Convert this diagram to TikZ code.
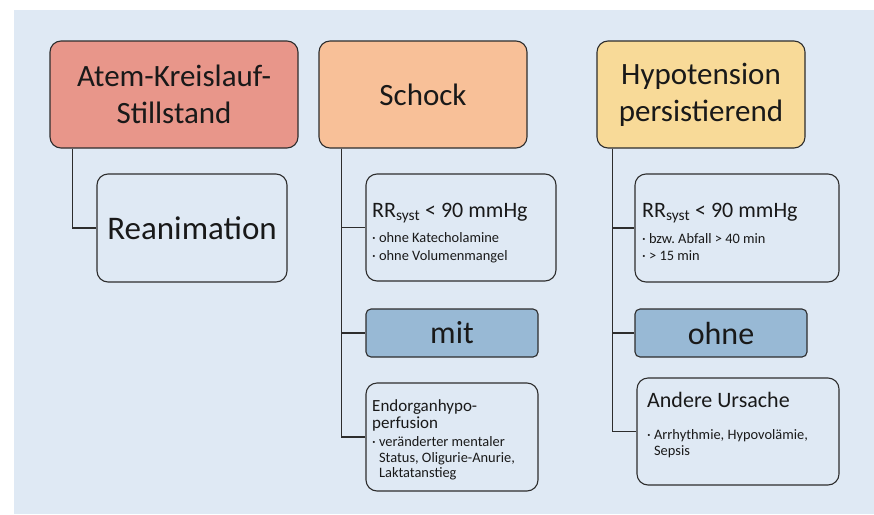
\documentclass[tikz,border=0pt]{standalone}
\usepackage{fontspec}
\setmainfont{Carlito}

\definecolor{colorBG}{RGB}{223,233,244}
\definecolor{colorLine}{RGB}{45,45,45}
\definecolor{colorText}{RGB}{25,25,25}
\definecolor{colorArrest}{RGB}{232,150,138}
\definecolor{colorShock}{RGB}{248,192,152}
\definecolor{colorHypo}{RGB}{248,218,152}
\definecolor{colorTag}{RGB}{152,185,213}
\tikzset{
   box/.style={draw=colorLine,line width=1.1pt,rounded corners=11pt,inner sep=0pt,text=colorText},
   topbox/.style={box,minimum width=#1,minimum height=107pt,align=center,font=\fontsize{31}{37}\selectfont},
   infobox/.style={box,fill=colorBG},
   tagbox/.style={box,rounded corners=5pt,fill=colorTag,minimum width=172pt,minimum height=48pt,font=\fontsize{32}{37}\selectfont},
   head/.style={anchor=base west,inner sep=0pt,text=colorText,font=\fontsize{22}{24}\selectfont},
   note/.style={anchor=base west,inner sep=0pt,align=left,text=colorText,font=\fontsize{14.4}{#1}\selectfont},
   link/.style={draw=colorLine,line width=1.1pt},
 }
\newcommand{\dlink}[3]{\draw[link] (#1.south west) ++(#3,0) |- (#2.west)}
\newcommand{\bul}{\textperiodcentered\ }

\begin{document}
\begin{tikzpicture}[x=1pt,y=-1pt]
      \useasboundingbox (0,0) rectangle (874,514);
      \fill[colorBG] (14,10) rectangle (874,514);

      % top row
      \node[topbox=248pt,fill=colorArrest] (Arrest) at (174,94.5) {Atem-Kreislauf-\\Stillstand};
      \node[topbox=208pt,fill=colorShock] (Shock) at (423,94.5) {Schock};
      \node[topbox=208pt,fill=colorHypo] (Hypo) at (701,94.5) {Hypotension\\persistierend};

      % left column
      \node[infobox,minimum width=190pt,minimum height=108pt,font=\fontsize{33}{37}\selectfont] (Reanim) at (192,228) {Reanimation};
      \dlink{Arrest}{Reanim}{23};

      % middle column
      \node[infobox,minimum width=190pt,minimum height=107pt] (RRa) at (461,227.5) {};
      \node[head] (RRaHead) at (372,217) {RR\textsubscript{syst} < 90 mmHg};
      \node[note=17.5] (RRaNote) at (372,260) {\bul ohne Katecholamine\\\bul ohne Volumenmangel};
      \dlink{Shock}{RRa}{23};

      \node[tagbox] (Mit) at (452,333) {mit};
      \dlink{Shock}{Mit}{23};

      \node[infobox,minimum width=172pt,minimum height=108pt] (Organ) at (452,437) {};
      \node[note=16.5,font=\fontsize{17}{16.5}\selectfont] (OrganHead) at (372,428) {Endorganhypo-\\perfusion};
      \node[note=15.5] (OrganNote) at (372,477.5) {\bul veränderter mentaler\\\hphantom{\bul}Status, Oligurie-Anurie,\\\hphantom{\bul}Laktatanstieg};
      \dlink{Shock}{Organ}{23};

      % right column
      \node[infobox,minimum width=204pt,minimum height=108pt] (RRb) at (737,228) {};
      \node[head] (RRbHead) at (642,217) {RR\textsubscript{syst} < 90 mmHg};
      \node[note=17] (RRbNote) at (642,260) {\bul bzw.\ Abfall > 40 min\\\bul > 15 min};
      \dlink{Hypo}{RRb}{16};

      \node[tagbox] (Ohne) at (721,333) {ohne};
      \dlink{Hypo}{Ohne}{16};

      \node[infobox,minimum width=202pt,minimum height=107pt] (Cause) at (738,431.5) {};
      \node[head] (CauseHead) at (647,407) {Andere Ursache};
      \node[note=16] (CauseNote) at (647,455) {\bul Arrhythmie, Hypovolämie,\\\hphantom{\bul}Sepsis};
      \dlink{Hypo}{Cause}{16};
    \end{tikzpicture}
\end{document}
